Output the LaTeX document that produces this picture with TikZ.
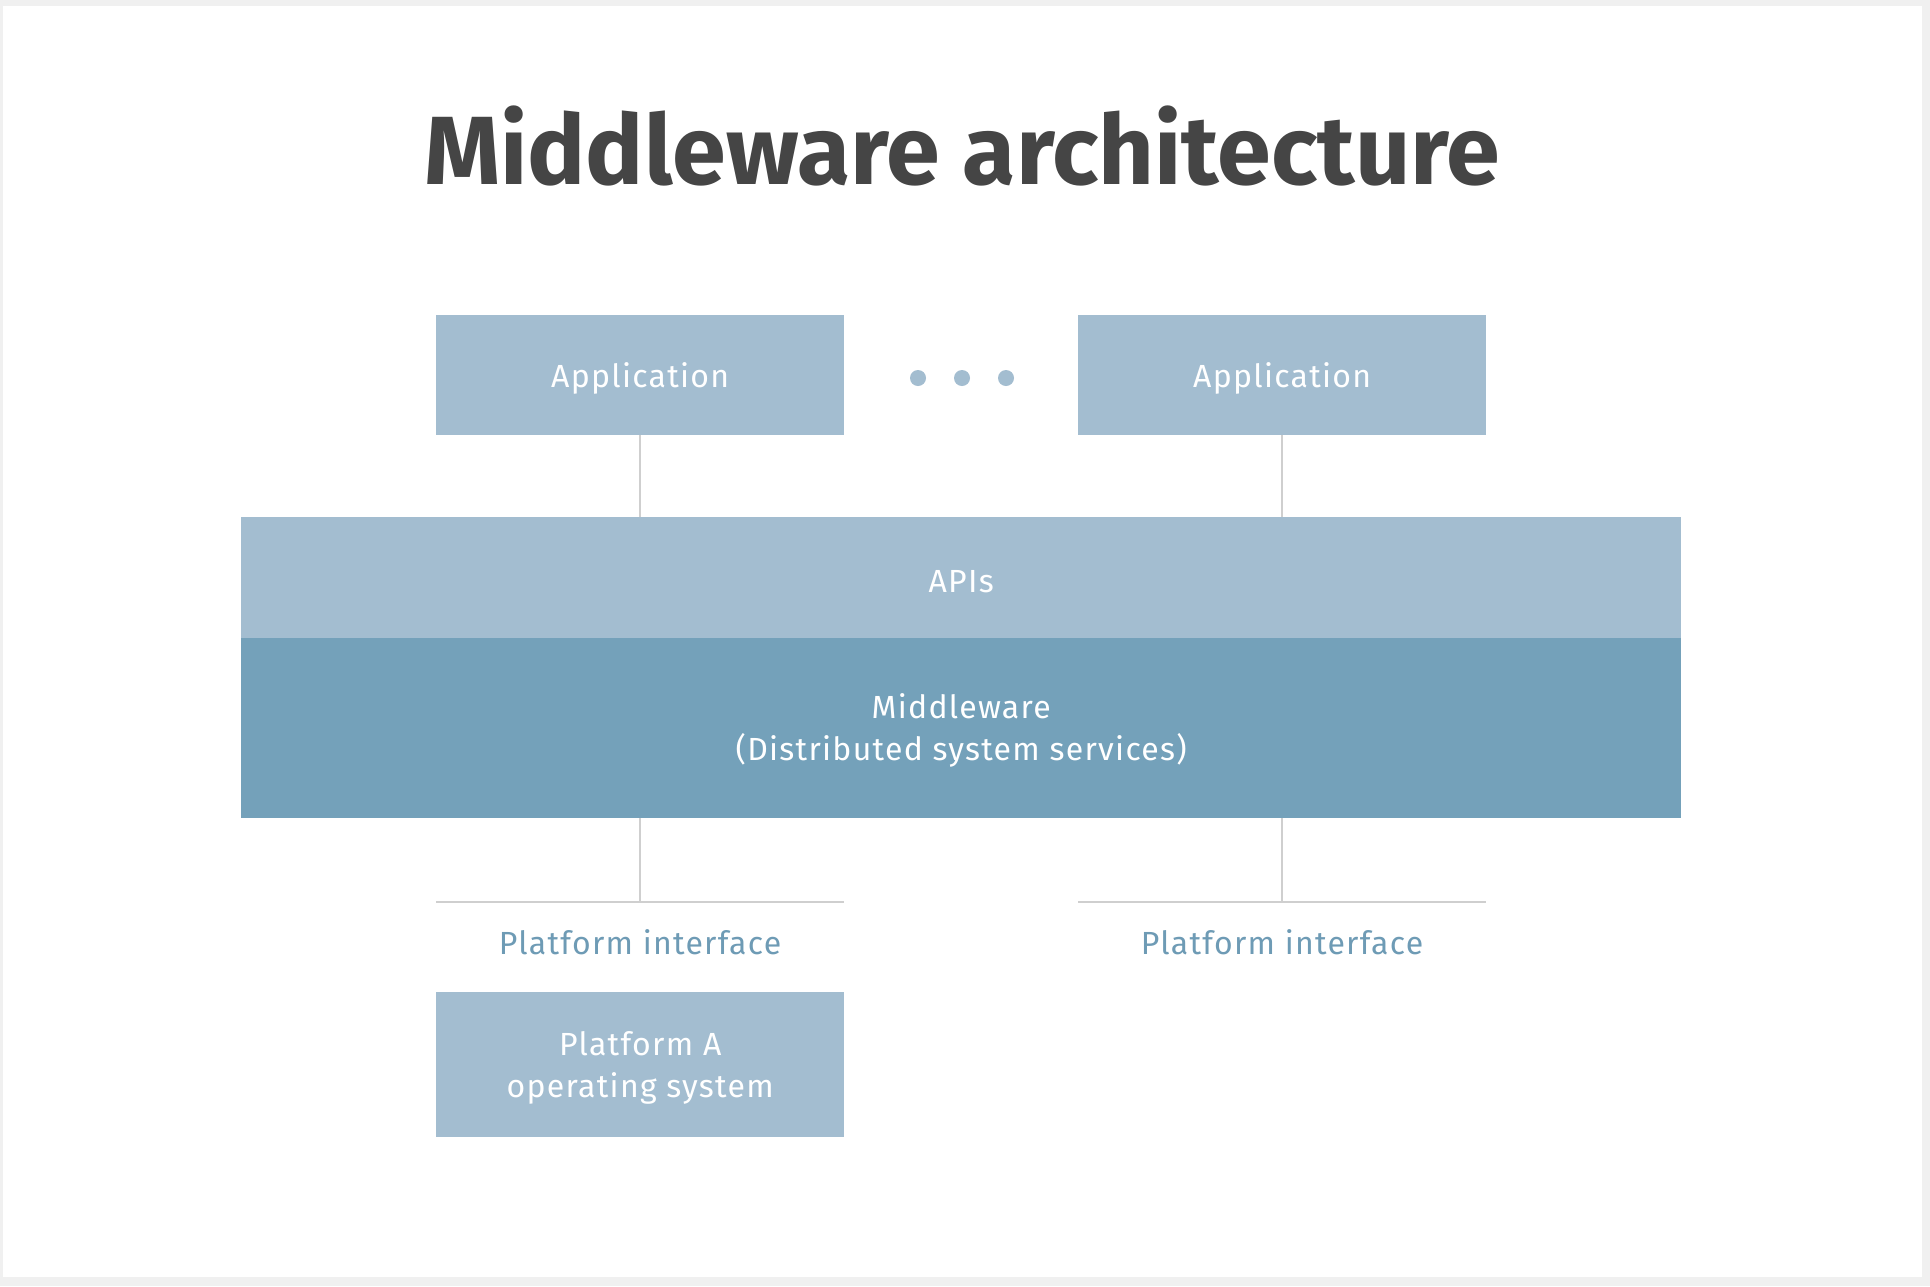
\documentclass[tikz,border=0pt]{standalone}
\usepackage{fontspec}
\setmainfont{Fira Sans}
\newfontfamily\bodyfont[LetterSpace=4]{Fira Sans}
\definecolor{boxlight}{HTML}{A3BDD0}
\definecolor{boxdark}{HTML}{74A1BA}
\definecolor{txtblue}{HTML}{6E9BB5}
\definecolor{titlegray}{HTML}{454545}
\definecolor{linegray}{HTML}{CFCFCF}
\definecolor{framegray}{HTML}{F0F0F0}
\tikzset{
  boxtext/.style={text=white, align=center, inner sep=0pt, yshift=-3.5pt, font=\bodyfont\fontsize{32}{42}\selectfont},
  lightbox/.style={fill=boxlight, draw=none, anchor=north west, inner sep=0pt},
  darkbox/.style={fill=boxdark, draw=none, anchor=north west, inner sep=0pt},
  conn/.style={draw=linegray, line width=2pt},
  pilabel/.style={text=txtblue, font=\bodyfont\fontsize{32}{36}\selectfont, inner sep=0pt},
  dot/.style={circle, fill=boxlight, minimum size=16pt, inner sep=0pt}
}
\begin{document}
\begin{tikzpicture}[x=1pt,y=-1pt]
\useasboundingbox (0,0) rectangle (1930,1286);
\fill[framegray] (0,0) rectangle (1930,1286);
\fill[white] (3,6) rectangle (1922,1277);
\node[font=\bfseries\fontsize{97}{100}\selectfont, text=titlegray, inner sep=0pt] (title) at (962,146) {Middleware architecture};
\node[lightbox, minimum width=408pt, minimum height=120pt, label={[boxtext]center:Application}] (app1) at (436,315) {};
\node[lightbox, minimum width=408pt, minimum height=120pt, label={[boxtext]center:Application}] (app2) at (1078,315) {};
\node[dot] (d1) at (918,378) {};
\node[dot] (d2) at (962,378) {};
\node[dot] (d3) at (1006,378) {};
\node[lightbox, minimum width=1440pt, minimum height=121pt, label={[boxtext]center:APIs}] (apis) at (241,517) {};
\node[darkbox, minimum width=1440pt, minimum height=180pt, label={[boxtext, yshift=1pt]center:Middleware\\(Distributed system services)}] (mw) at (241,637.5) {};
\coordinate (pi1L) at (436,902);
\coordinate (pi1R) at (844,902);
\coordinate (pi2L) at (1078,902);
\coordinate (pi2R) at (1486,902);
\coordinate (pi1) at (640,902);
\coordinate (pi2) at (1282,902);
\draw[conn] (app1.south) -- (app1.south |- apis.north);
\draw[conn] (app2.south) -- (app2.south |- apis.north);
\draw[conn] (mw.south -| pi1) -- (pi1);
\draw[conn] (mw.south -| pi2) -- (pi2);
\draw[conn] (pi1L) -- (pi1R);
\draw[conn] (pi2L) -- (pi2R);
\node[pilabel] (pl1) at (640,942) {Platform interface};
\node[pilabel] (pl2) at (1282,942) {Platform interface};
\node[lightbox, minimum width=408pt, minimum height=145pt, label={[boxtext]center:Platform A\\operating system}] (pa) at (436,992) {};
\end{tikzpicture}
\end{document}
